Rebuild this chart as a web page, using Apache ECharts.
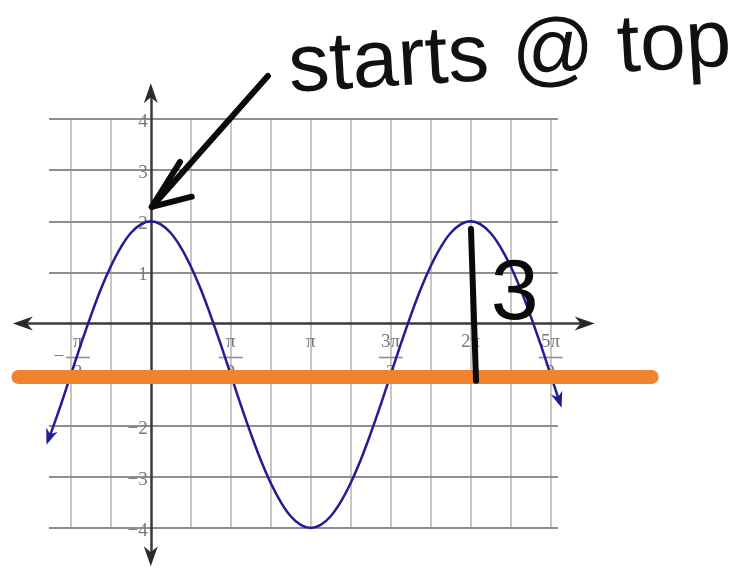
<!DOCTYPE html>
<html>
<head>
<meta charset="utf-8">
<script src="https://cdn.jsdelivr.net/npm/echarts@6/dist/echarts.min.js"></script>
<style>
  html, body { margin: 0; padding: 0; background: #ffffff; }
  #chart { width: 756px; height: 568px; }
</style>
</head>
<body>
<div id="chart"></div>
<script>
const PI = Math.PI;

// Plot window (radians on x, units on y)
const xRange = [-2, 8];
const yRange = [-4, 4];

// Grid: vertical lines every pi/4 (given in quarter-pi steps), horizontal lines every unit
const xGridQuarterPi = [-2, -1, 1, 2, 3, 4, 5, 6, 7, 8, 9, 10];
const yGridValues = [-4, -3, -2, -1, 1, 2, 3, 4];

// x tick labels at multiples of pi/2
const xLabelHalfPi = [-1, 1, 2, 3, 4, 5];
const xLabelSign = ['−', '', '', '', '', ''];
const xLabelNum = ['π', 'π', 'π', '3π', '2π', '5π'];
const xLabelDen = ['2', '2', '', '2', '', '2'];

// y tick labels
const yLabelValues = [4, 3, 2, 1, -1, -2, -3, -4];
const yLabelText = ['4', '3', '2', '1', '−1', '−2', '−3', '−4'];

// The wave, sampled every pi/16 (plus the two ends)
const curveX = [-2.02, -1.767, -1.571, -1.374, -1.178, -0.982, -0.785, -0.589, -0.393, -0.196,
  0, 0.196, 0.393, 0.589, 0.785, 0.982, 1.178, 1.374, 1.571, 1.767,
  1.963, 2.160, 2.356, 2.553, 2.749, 2.945, 3.142, 3.338, 3.534, 3.731,
  3.927, 4.123, 4.320, 4.516, 4.712, 4.909, 5.105, 5.301, 5.498, 5.694,
  5.890, 6.087, 6.283, 6.480, 6.676, 6.872, 7.069, 7.265, 7.461, 7.658,
  7.854, 7.95, 8.04];
const curveY = [-2.3, -1.59, -1, -0.41, 0.15, 0.67, 1.12, 1.49, 1.77, 1.94,
  2, 1.94, 1.77, 1.49, 1.12, 0.67, 0.15, -0.41, -1, -1.59,
  -2.15, -2.67, -3.12, -3.49, -3.77, -3.94, -4, -3.94, -3.77, -3.49,
  -3.12, -2.67, -2.15, -1.59, -1, -0.41, 0.15, 0.67, 1.12, 1.49,
  1.77, 1.94, 2, 1.94, 1.77, 1.49, 1.12, 0.67, 0.15, -0.41,
  -1, -1.29, -1.556];
const curveTips = [[-2.05, -2.37], [8.07, -1.65]];

// Highlighted midline
const midlineY = -1.05;
const midlineX = [-2.6, 9.84];

// Amplitude marker at x = 2pi
const ampLineX = [6.29, 6.39];
const ampLineY = [1.85, -1.12];
const ampText = '3';
const ampTextPos = [7.15, 0.55];

// Pointer to the starting maximum
const pointerShaft = [[2.30, 4.84], [0.02, 2.28]];
const pointerHead = [[0.575, 3.16], [0.02, 2.28], [0.805, 2.48]];

// Axis extents (arrow tips)
const xAxisTips = [-2.71, 8.72];
const yAxisTips = [4.70, -4.75];

const curveData = curveX.map((x, i) => [x, curveY[i]]);
const n = curveData.length;

function arrowHeads(tips, color, len, wid, z) {
  return {
    type: 'custom', z: z, silent: true, clip: false,
    data: tips,
    renderItem: function (params, api) {
      const t = api.coord([api.value(0), api.value(1)]);
      const f = api.coord([api.value(2), api.value(3)]);
      let dx = t[0] - f[0], dy = t[1] - f[1];
      const m = Math.hypot(dx, dy); dx /= m; dy /= m;
      const nx = -dy, ny = dx;
      const bx = t[0] - dx * len, by = t[1] - dy * len;
      const kx = t[0] - dx * len * 0.7, ky = t[1] - dy * len * 0.7;
      return {
        type: 'polygon',
        shape: { points: [t, [bx + nx * wid / 2, by + ny * wid / 2], [kx, ky], [bx - nx * wid / 2, by - ny * wid / 2]] },
        style: { fill: color }
      };
    }
  };
}

const chart = echarts.init(document.getElementById('chart'), null, { renderer: 'canvas' });

const serifFont = '"Liberation Serif", "DejaVu Serif", serif';
const labelGray = '#7a7a7a';

chart.setOption({
  animation: false,
  backgroundColor: '#ffffff',
  grid: { left: 49, right: 198, top: 119, bottom: 40 },
  xAxis: { type: 'value', min: xRange[0], max: xRange[1], show: false },
  yAxis: { type: 'value', min: yRange[0], max: yRange[1], show: false },
  graphic: [{
    type: 'text',
    x: 510, y: 56,
    rotation: 0.06,
    style: {
      text: 'starts @ top',
      font: '82px "Liberation Sans", Arimo, sans-serif',
      fill: '#111111',
      textAlign: 'center',
      textVerticalAlign: 'middle'
    },
    z: 100
  }],
  series: [
    // vertical grid
    {
      type: 'lines', coordinateSystem: 'cartesian2d', z: 1, silent: true, clip: false,
      data: xGridQuarterPi.map(k => ({ coords: [[k * PI / 4, yRange[0]], [k * PI / 4, yRange[1]]] })),
      lineStyle: { color: '#c6c6c6', width: 2, opacity: 1 }
    },
    // horizontal grid
    {
      type: 'lines', coordinateSystem: 'cartesian2d', z: 2, silent: true, clip: false,
      data: yGridValues.map(v => ({ coords: [[xRange[0], v], [xRange[1], v]] })),
      lineStyle: { color: '#8f8f8f', width: 2, opacity: 1 }
    },
    // axes
    {
      type: 'lines', coordinateSystem: 'cartesian2d', z: 3, silent: true, clip: false,
      data: [
        { coords: [[xAxisTips[0] + 0.15, 0], [xAxisTips[1] - 0.15, 0]] },
        { coords: [[0, yAxisTips[0] - 0.15], [0, yAxisTips[1] + 0.15]] }
      ],
      lineStyle: { color: '#3a3a3a', width: 2.5, opacity: 1 }
    },
    arrowHeads([
      [xAxisTips[0], 0, 0, 0],
      [xAxisTips[1], 0, 0, 0],
      [0, yAxisTips[0], 0, 0],
      [0, yAxisTips[1], 0, 0]
    ], '#2a2a2a', 20, 14, 3),
    // x tick labels
    {
      type: 'scatter', z: 4, silent: true, symbolSize: 0,
      itemStyle: { opacity: 1 },
      data: xLabelHalfPi.map(k => [k * PI / 2, 0]),
      label: {
        show: true, position: 'bottom', distance: 9,
        formatter: function (p) {
          const i = p.dataIndex;
          const sign = xLabelSign[i];
          if (!xLabelDen[i]) return '{n|' + xLabelNum[i] + '}';
          if (sign) {
            return '{sp| }{f|' + xLabelNum[i] + '}\n{m|' + sign + '}{b| }\n{sp| }{f|' + xLabelDen[i] + '}';
          }
          return '{f|' + xLabelNum[i] + '}\n{b| }\n{f|' + xLabelDen[i] + '}';
        },
        rich: {
          n: { fontFamily: serifFont, fontSize: 19, color: labelGray, lineHeight: 19 },
          f: { fontFamily: serifFont, fontSize: 19, color: labelGray, lineHeight: 19, width: 24, align: 'center' },
          sp: { width: 14, lineHeight: 19 },
          m: { fontFamily: serifFont, fontSize: 19, color: labelGray, width: 14, lineHeight: 12, align: 'center' },
          b: { width: 24, height: 1.6, lineHeight: 12, backgroundColor: '#8f8f8f' }
        }
      }
    },
    // y tick labels
    {
      type: 'scatter', z: 4, silent: true, symbolSize: 0,
      itemStyle: { opacity: 1 },
      data: yLabelValues.map(v => [0, v]),
      label: {
        show: true, position: 'left', distance: 3, offset: [0, 3],
        fontFamily: serifFont, fontSize: 19, color: labelGray,
        formatter: p => yLabelText[p.dataIndex]
      }
    },
    // the wave
    {
      type: 'line', z: 5, silent: true, clip: false,
      data: curveData, smooth: 0.4, showSymbol: false, symbol: 'none',
      lineStyle: { color: '#221c94', width: 2.5 }
    },
    arrowHeads([
      [curveTips[0][0], curveTips[0][1], curveData[1][0], curveData[1][1]],
      [curveTips[1][0], curveTips[1][1], curveData[n - 2][0], curveData[n - 2][1]]
    ], '#221c94', 16, 12, 5),
    // highlighted midline
    {
      type: 'lines', coordinateSystem: 'cartesian2d', z: 6, silent: true, clip: false,
      data: [{ coords: [[midlineX[0], midlineY], [midlineX[1], midlineY]] }],
      lineStyle: { color: '#f0832f', width: 14, cap: 'round', opacity: 1 }
    },
    // amplitude marker
    {
      type: 'lines', coordinateSystem: 'cartesian2d', z: 7, silent: true, clip: false,
      data: [{ coords: [[ampLineX[0], ampLineY[0]], [ampLineX[1], ampLineY[1]]] }],
      lineStyle: { color: '#0a0a0a', width: 6, cap: 'round', opacity: 1 }
    },
    {
      type: 'scatter', z: 7, silent: true, symbolSize: 0,
      itemStyle: { opacity: 1 },
      data: [ampTextPos],
      label: {
        show: true, position: 'inside', formatter: ampText,
        fontFamily: '"Liberation Sans", sans-serif', fontSize: 86, color: '#0a0a0a',
        textBorderWidth: 0
      }
    },
    // pointer arrow
    {
      type: 'lines', coordinateSystem: 'cartesian2d', polyline: true, z: 7, silent: true, clip: false,
      data: [{ coords: pointerShaft }, { coords: pointerHead }],
      lineStyle: { color: '#0a0a0a', width: 6, cap: 'round', join: 'round', opacity: 1 }
    }
  ]
});
</script>
</body>
</html>
